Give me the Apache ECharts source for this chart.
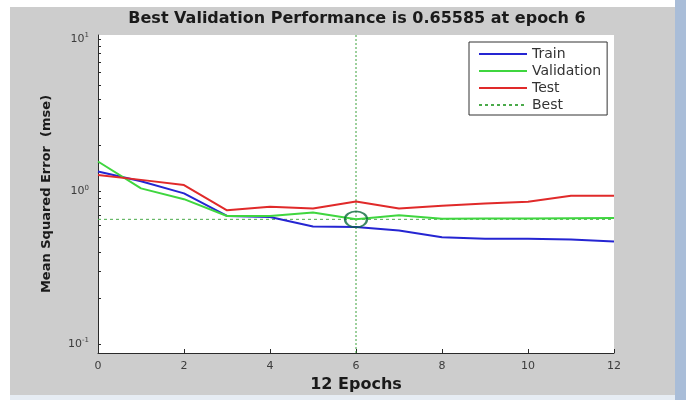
<!DOCTYPE html>
<html>
<head>
<meta charset="utf-8">
<script src="https://cdn.jsdelivr.net/npm/echarts@6/dist/echarts.min.js"></script>
<style>
html,body{margin:0;padding:0;background:#fff;}
#c{width:686px;height:400px;}
</style>
</head>
<body>
<div id="c"></div>
<script>
// ---- data ----
var epochs = [0,1,2,3,4,5,6,7,8,9,10,11,12];
var trainPerf = [1.35,1.165,0.97,0.69,0.68,0.589,0.584,0.554,0.501,0.489,0.489,0.483,0.469];
var valPerf   = [1.57,1.047,0.889,0.69,0.69,0.726,0.65585,0.697,0.662,0.663,0.663,0.666,0.668];
var testPerf  = [1.28,1.19,1.10,0.752,0.792,0.772,0.859,0.772,0.804,0.833,0.855,0.937,0.937];
var bestEpoch = 6;
var bestPerf = 0.65585;
var xTicks = [0,2,4,6,8,10,12];
var yMajorTicks = [0.1,1,10];
var yMinorTicks = [0.2,0.3,0.4,0.5,0.6,0.7,0.8,0.9,2,3,4,5,6,7,8,9];
var yMin = 0.0872, yMax = 10.6;
var titleText = 'Best Validation Performance is 0.65585 at epoch 6';

function pairs(xs, ys){ return xs.map(function(x,i){return [x, ys[i]];}); }

var chart = echarts.init(document.getElementById('c'), null, {renderer:'canvas'});
var axisColor = '#2a2a2a';
var labelColor = '#3c3c3c';
var FONT = 'DejaVu Sans';
var option = {
  animation: false,
  backgroundColor: '#ffffff',
  graphic: [
    {type:'rect', shape:{x:10,y:7,width:665,height:388}, style:{fill:'#cdcdcd'}, z:-10, silent:true},
    {type:'rect', shape:{x:675,y:0,width:11,height:400}, style:{fill:'#a9bdd8'}, z:-10, silent:true},
    {type:'rect', shape:{x:10,y:395,width:665,height:5}, style:{fill:'#e6ecf3'}, z:-10, silent:true}
  ],
  title: {
    text: titleText,
    left: 357, top: 11, padding: 0,
    textAlign: 'center',
    textStyle: {fontFamily:FONT, fontWeight:'bold', fontSize:16, color:'#1a1a1a'}
  },
  grid: {left:98, top:35, right:72, bottom:47, show:true, backgroundColor:'#ffffff', borderWidth:0, containLabel:false},
  legend: {
    data: ['Train','Validation','Test','Best'],
    orient: 'vertical',
    left: 469, top: 42,
    padding: [5, 6, 3, 9],
    itemWidth: 48, itemHeight: 14, itemGap: 3,
    itemStyle: {opacity: 0},
    backgroundColor: '#ffffff', borderColor: '#333333', borderWidth: 1, borderRadius: 0,
    textStyle: {fontFamily:FONT, fontSize:14, lineHeight:14, color:'#333333'},
    selectedMode: false
  },
  xAxis: {
    type: 'value', min: 0, max: 12, interval: 2,
    name: '12 Epochs', nameLocation: 'middle', nameGap: 17,
    nameTextStyle: {fontFamily:FONT, fontWeight:'bold', fontSize:16, color:'#1a1a1a'},
    axisLine: {lineStyle:{color:axisColor, width:1}},
    axisTick: {inside:true, length:4, lineStyle:{color:axisColor}},
    axisLabel: {margin:8, fontFamily:FONT, fontSize:11, color:labelColor},
    splitLine: {show:false}
  },
  yAxis: {
    type: 'log', logBase: 10, min: yMin, max: yMax,
    name: 'Mean Squared Error  (mse)', nameLocation: 'middle', nameGap: 45,
    nameTextStyle: {fontFamily:FONT, fontWeight:'bold', fontSize:13, color:'#1a1a1a'},
    axisLine: {show:true, lineStyle:{color:axisColor, width:1}},
    axisTick: {inside:true, length:3, customValues: yMajorTicks.concat(yMinorTicks), lineStyle:{color:axisColor}},
    axisLabel: {
      margin: 9,
      customValues: yMajorTicks,
      formatter: function(v){
        var e = Math.round(Math.log(v)/Math.LN10);
        return '{b|10}{s|' + e + '}';
      },
      rich: {
        b: {fontFamily:FONT, fontSize:11, color:labelColor, lineHeight:14},
        s: {fontFamily:FONT, fontSize:7, color:labelColor, verticalAlign:'top', lineHeight:14, padding:[0,0,7,0]}
      }
    },
    splitLine: {show:false}
  },
  series: [
    {name:'Train', type:'line', data: pairs(epochs, trainPerf), symbol:'none', lineStyle:{color:'#2525d2', width:2}, itemStyle:{color:'#2525d2'}, z:3},
    {name:'Validation', type:'line', data: pairs(epochs, valPerf), symbol:'none', lineStyle:{color:'#3fd63f', width:2}, itemStyle:{color:'#3fd63f'}, z:3},
    {name:'Test', type:'line', data: pairs(epochs, testPerf), symbol:'none', lineStyle:{color:'#e02a2a', width:2}, itemStyle:{color:'#e02a2a'}, z:3},
    {name:'Best', type:'line', data: [[0,bestPerf],[12,bestPerf]], symbol:'none', lineStyle:{color:'#4aaa4a', width:1, type:[3,3]}, itemStyle:{color:'#4aaa4a'}, z:2},
    {name:'Best', type:'line', data: [[bestEpoch,yMin],[bestEpoch,yMax]], symbol:'none', lineStyle:{color:'#3aa03a', width:1, type:[2,2]}, itemStyle:{color:'#3aa03a'}, z:2},
    {name:'BestPoint', type:'scatter', data: [[bestEpoch,bestPerf]], symbol:'circle', symbolSize:[22,16],
     itemStyle:{color:'rgba(0,0,0,0)', borderColor:'#0b6a3c', borderWidth:2}, z:4}
  ]
};
chart.setOption(option);
</script>
</body>
</html>
